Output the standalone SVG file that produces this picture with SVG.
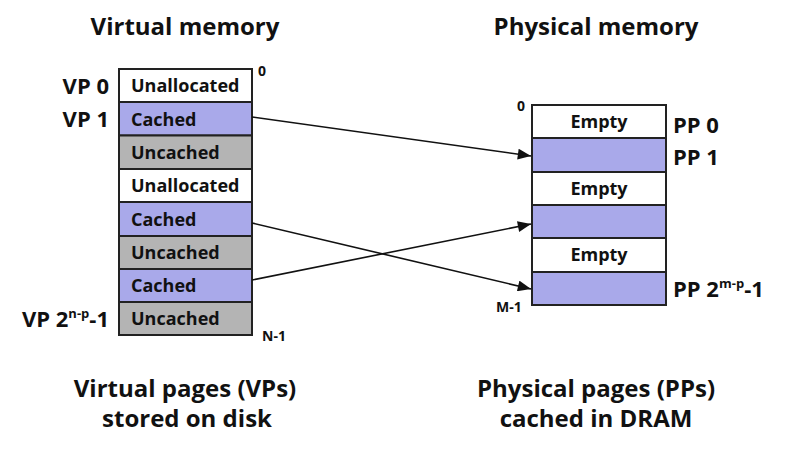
<svg xmlns="http://www.w3.org/2000/svg" width="793" height="460" viewBox="0 0 793 460">
<defs>
<style>
text{font-family:"Open Sans","Liberation Sans",sans-serif;font-weight:700;fill:#111}
.title{font-size:24px;text-anchor:middle}
.cell{font-size:18px}
.lbl{font-size:22px}
.sm{font-size:14px}
.sup{font-size:13px}
.box{stroke:#222;stroke-width:2}
.w{fill:#ffffff}
.c{fill:#a9a9ea}
.u{fill:#b4b4b4}
.conn{stroke:#111;stroke-width:1.6;fill:none}
</style>
<marker id="ah2" viewBox="0 0 12 10" refX="12" refY="5" markerWidth="14" markerHeight="11" markerUnits="userSpaceOnUse" orient="auto">
<path d="M0,0 L12,5 L0,10 Z" fill="#111"/>
</marker>
</defs>
<rect width="793" height="460" fill="#ffffff"/>
<text class="title" x="185" y="35">Virtual memory</text>
<text class="title" x="596" y="35">Physical memory</text>

<g id="virtual">
<g id="vp0"><rect class="box w" x="119" y="69" width="133" height="33"/><text class="cell" x="131" y="92">Unallocated</text></g>
<g id="vp1"><rect class="box c" x="119" y="102" width="133" height="33.5"/><text class="cell" x="131" y="126">Cached</text></g>
<g id="vp2"><rect class="box u" x="119" y="135.5" width="133" height="33.5"/><text class="cell" x="131" y="159">Uncached</text></g>
<g id="vp3"><rect class="box w" x="119" y="169" width="133" height="33"/><text class="cell" x="131" y="192">Unallocated</text></g>
<g id="vp4"><rect class="box c" x="119" y="202" width="133" height="34"/><text class="cell" x="131" y="226">Cached</text></g>
<g id="vp5"><rect class="box u" x="119" y="236" width="133" height="33"/><text class="cell" x="131" y="259">Uncached</text></g>
<g id="vp6"><rect class="box c" x="119" y="269" width="133" height="33"/><text class="cell" x="131" y="292">Cached</text></g>
<g id="vp7"><rect class="box u" x="119" y="302" width="133" height="33"/><text class="cell" x="131" y="325">Uncached</text></g>
</g>

<g id="physical">
<g id="pp0"><rect class="box w" x="532" y="105" width="134" height="33"/><text class="cell" x="599" y="128" text-anchor="middle">Empty</text></g>
<g id="pp1"><rect class="box c" x="532" y="138" width="134" height="34"/></g>
<g id="pp2"><rect class="box w" x="532" y="172" width="134" height="33"/><text class="cell" x="599" y="195" text-anchor="middle">Empty</text></g>
<g id="pp3"><rect class="box c" x="532" y="205" width="134" height="33"/></g>
<g id="pp4"><rect class="box w" x="532" y="238" width="134" height="34"/><text class="cell" x="599" y="261" text-anchor="middle">Empty</text></g>
<g id="pp5"><rect class="box c" x="532" y="272" width="134" height="33"/></g>
</g>

<g id="labels">
<text class="lbl" x="109" y="94" text-anchor="end">VP 0</text>
<text class="lbl" x="109" y="127" text-anchor="end">VP 1</text>
<text class="lbl" x="109" y="327" text-anchor="end">VP 2<tspan class="sup" dy="-9">n-p</tspan><tspan dy="9">-1</tspan></text>
<text class="sm" x="258" y="76">0</text>
<text class="sm" x="262" y="341">N-1</text>
<text class="sm" x="517" y="111">0</text>
<text class="sm" x="496" y="312">M-1</text>
<text class="lbl" x="673" y="133">PP 0</text>
<text class="lbl" x="673" y="165">PP 1</text>
<text class="lbl" x="673" y="297">PP 2<tspan class="sup" dy="-9">m-p</tspan><tspan dy="9">-1</tspan></text>
</g>

<g id="connectors">
<line class="conn" x1="252" y1="117" x2="531" y2="156" marker-end="url(#ah2)"/>
<line class="conn" x1="252" y1="223" x2="531" y2="289" marker-end="url(#ah2)"/>
<line class="conn" x1="252" y1="280" x2="531" y2="224" marker-end="url(#ah2)"/>
</g>

<text class="title" x="185" y="397">Virtual pages (VPs)</text>
<text class="title" x="187" y="427">stored on disk</text>
<text class="title" x="596" y="397">Physical pages (PPs)</text>
<text class="title" x="596" y="427">cached in DRAM</text>
</svg>
